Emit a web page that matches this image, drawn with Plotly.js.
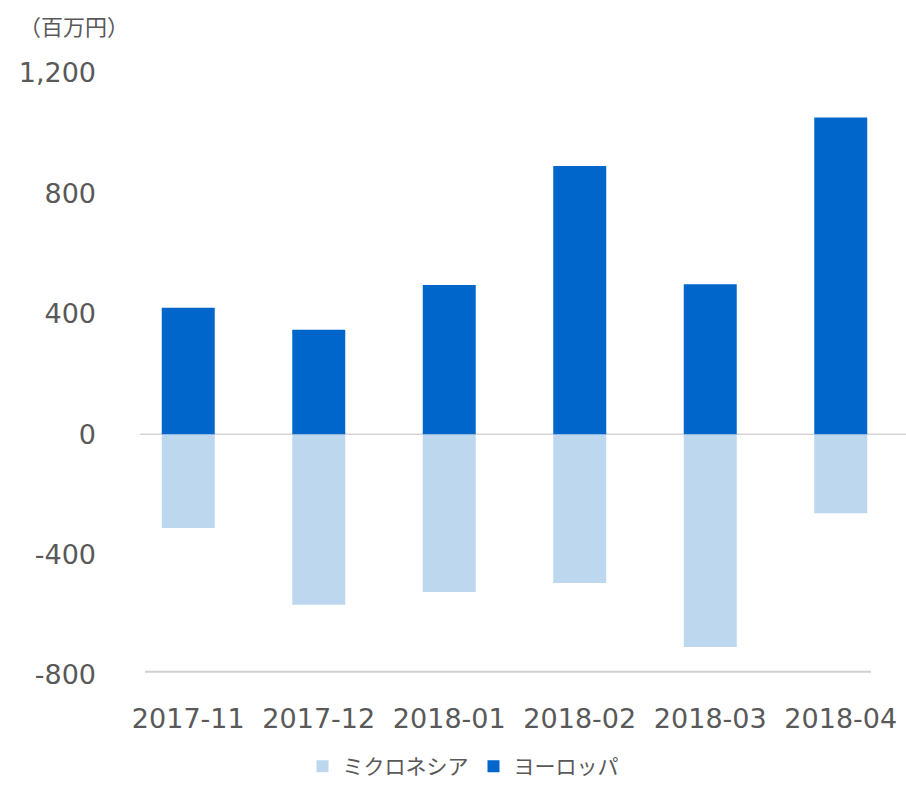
<!DOCTYPE html>
<html>
<head>
<meta charset="utf-8">
<script src="https://cdn.plot.ly/plotly-3.0.1.min.js"></script>
<style>html,body{margin:0;padding:0;background:#fff;}#chart{width:906px;height:787px;}</style>
</head>
<body>
<div id="chart"></div>
<script>
const categories = ["2017-11", "2017-12", "2018-01", "2018-02", "2018-03", "2018-04"];
const micronesia = [-312, -567, -524, -494, -707, -263];
const europe = [420, 347, 496, 891, 498, 1052];
const seriesNames = ["ミクロネシア", "ヨーロッパ"];
const yTickVals = [-800, -400, 0, 400, 800, 1200];
const yTickText = ["-800", "-400", "0", "400", "800", "1,200"];
const unitLabel = "（百万円）";

const numFont = "DejaVu Sans, Verdana, sans-serif";
const jpFont = "Noto Sans CJK JP, sans-serif";
const textColor = "#595959";

const traces = [
  {type: "bar", name: seriesNames[0], x: categories, y: micronesia,
   marker: {color: "#BDD7EE", line: {width: 0}}},
  {type: "bar", name: seriesNames[1], x: categories, y: europe,
   marker: {color: "#0066CC", line: {width: 0}}}
];

const layout = {
  width: 906, height: 787,
  margin: {l: 123, r: 0, t: 73, b: 105, pad: 0},
  paper_bgcolor: "#ffffff", plot_bgcolor: "#ffffff",
  barmode: "relative",
  bargap: 0.594,
  font: {family: numFont, color: textColor},
  title: {text: unitLabel, x: 19/906, xref: "container", xanchor: "left",
          y: 1 - 27/787, yref: "container", yanchor: "middle",
          font: {family: jpFont, size: 22, color: textColor}},
  xaxis: {type: "category", showgrid: false, zeroline: false, showline: false,
          ticks: "", ticklabelstandoff: 25,
          tickfont: {family: numFont, size: 27, color: textColor}},
  yaxis: {range: [-800, 1200], tickvals: yTickVals, ticktext: yTickText,
          showgrid: false, zeroline: false, showline: false, ticks: "",
          ticklabelstandoff: 26,
          tickfont: {family: numFont, size: 27, color: textColor}},
  showlegend: true,
  legend: {orientation: "h", x: (463-123)/783, xanchor: "center",
           y: -93/609, yanchor: "middle", traceorder: "normal",
           font: {family: jpFont, size: 21, color: textColor},
           itemclick: false, bgcolor: "rgba(0,0,0,0)"},
  shapes: [
    {type: "line", xref: "paper", yref: "y", x0: (140-123)/783, x1: 1, y0: 0, y1: 0,
     line: {color: "#BFBFBF", width: 1}, layer: "below"},
    {type: "line", xref: "paper", yref: "y", x0: (145-123)/783, x1: (871-123)/783, y0: -789, y1: -789,
     line: {color: "#D0D0D0", width: 2}, layer: "below"}
  ]
};

Plotly.newPlot("chart", traces, layout, {displayModeBar: false, staticPlot: true});
</script>
</body>
</html>
